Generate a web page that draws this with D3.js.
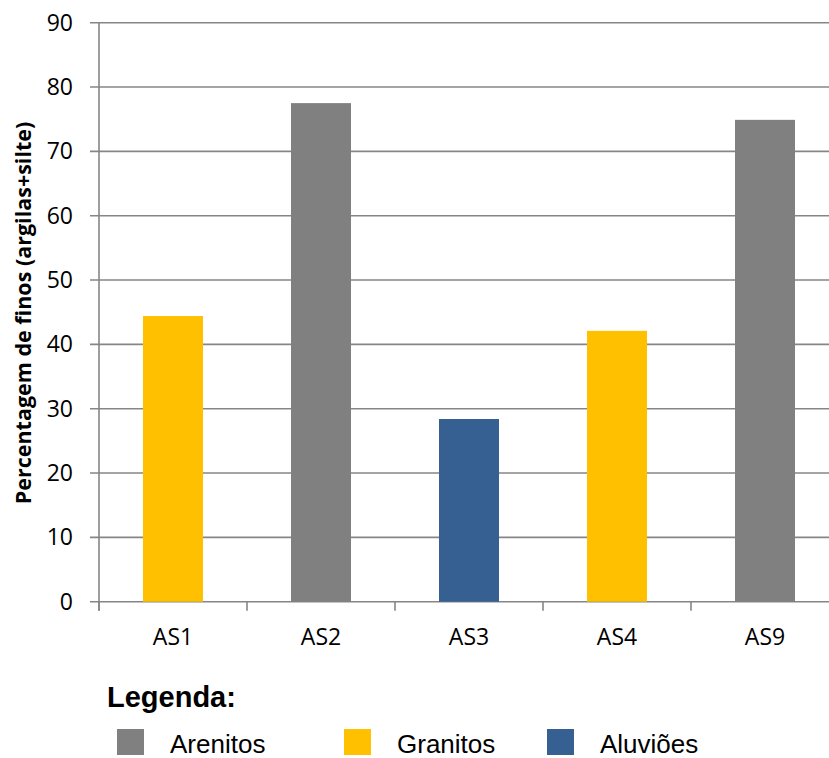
<!DOCTYPE html>
<html>
<head>
<meta charset="utf-8">
<script src="https://cdn.jsdelivr.net/npm/d3@7"></script>
<style>
  html, body { margin: 0; padding: 0; background: #fff; }
  svg { display: block; }
</style>
</head>
<body>
<script>
// Samples and their fines percentage (clay + silt)
const categories = ["AS1", "AS2", "AS3", "AS4", "AS9"];
const values = [44.4, 77.5, 28.4, 42.1, 74.9];
const lithology = ["Granitos", "Arenitos", "Aluviões", "Granitos", "Arenitos"];

const legendItems = ["Arenitos", "Granitos", "Aluviões"];
const legendColors = ["#808080", "#FFC000", "#376092"];
const yTicks = [0, 10, 20, 30, 40, 50, 60, 70, 80, 90];

const W = 829, H = 758;
const svg = d3.select("body").append("svg").attr("width", W).attr("height", H);

const color = d3.scaleOrdinal().domain(legendItems).range(legendColors);

const x = d3.scaleBand().domain(categories).range([99, 839])
  .paddingInner(0.5946).paddingOuter(0.2973);
const y = d3.scaleLinear().domain([0, 90]).range([601.7, 22.7]);

const tickFont = "'Open Sans', sans-serif";
const axisColor = "#868686";

// Horizontal gridlines with left tick marks
svg.append("g").selectAll("line").data(yTicks).join("line")
  .attr("x1", 90).attr("x2", W)
  .attr("y1", d => y(d)).attr("y2", d => y(d))
  .attr("stroke", axisColor).attr("stroke-width", 1.6);

// Y tick labels
svg.append("g").selectAll("text").data(yTicks).join("text")
  .attr("x", 73).attr("y", d => y(d))
  .attr("dy", "0.35em")
  .attr("text-anchor", "end")
  .attr("font-family", tickFont).attr("font-size", 23)
  .attr("fill", "#000")
  .text(d => d);

// Bars
svg.append("g").selectAll("rect").data(categories).join("rect")
  .attr("x", d => x(d))
  .attr("width", x.bandwidth())
  .attr("y", (d, i) => y(values[i]))
  .attr("height", (d, i) => y(0) - y(values[i]))
  .attr("fill", (d, i) => color(lithology[i]));

// Vertical axis line
svg.append("line")
  .attr("x1", 99).attr("x2", 99)
  .attr("y1", y(90)).attr("y2", y(0) + 9)
  .attr("stroke", axisColor).attr("stroke-width", 1.6);

// Category separators below the baseline
const sepX = categories.map(c => x(c) - x.step() * x.paddingOuter()).concat([839]);
svg.append("g").selectAll("line").data(sepX).join("line")
  .attr("x1", d => d).attr("x2", d => d)
  .attr("y1", y(0)).attr("y2", y(0) + 9)
  .attr("stroke", axisColor).attr("stroke-width", 1.6);

// Category labels
svg.append("g").selectAll("text").data(categories).join("text")
  .attr("x", d => x(d) + x.bandwidth() / 2)
  .attr("y", 645)
  .attr("text-anchor", "middle")
  .attr("font-family", tickFont).attr("font-size", 23)
  .attr("fill", "#000")
  .text(d => d);

// Y axis title
svg.append("text")
  .attr("transform", "translate(31,313) rotate(-90)")
  .attr("text-anchor", "middle")
  .attr("font-family", tickFont).attr("font-size", 21.5)
  .attr("font-weight", "bold")
  .attr("fill", "#000")
  .text("Percentagem de finos (argilas+silte)");

// Legend
const legFont = "'Liberation Sans', Arial, sans-serif";
svg.append("text")
  .attr("x", 107).attr("y", 707)
  .attr("font-family", legFont).attr("font-size", 29)
  .attr("font-weight", "bold").attr("fill", "#000")
  .text("Legenda:");

const legX = [117, 344, 547];
const leg = svg.append("g").selectAll("g").data(legendItems).join("g")
  .attr("transform", (d, i) => `translate(${legX[i]},729)`);
leg.append("rect")
  .attr("width", 27).attr("height", 26)
  .attr("fill", d => color(d));
leg.append("text")
  .attr("x", 53).attr("y", 24)
  .attr("font-family", legFont).attr("font-size", 26)
  .attr("fill", "#000")
  .text(d => d);
</script>
</body>
</html>
